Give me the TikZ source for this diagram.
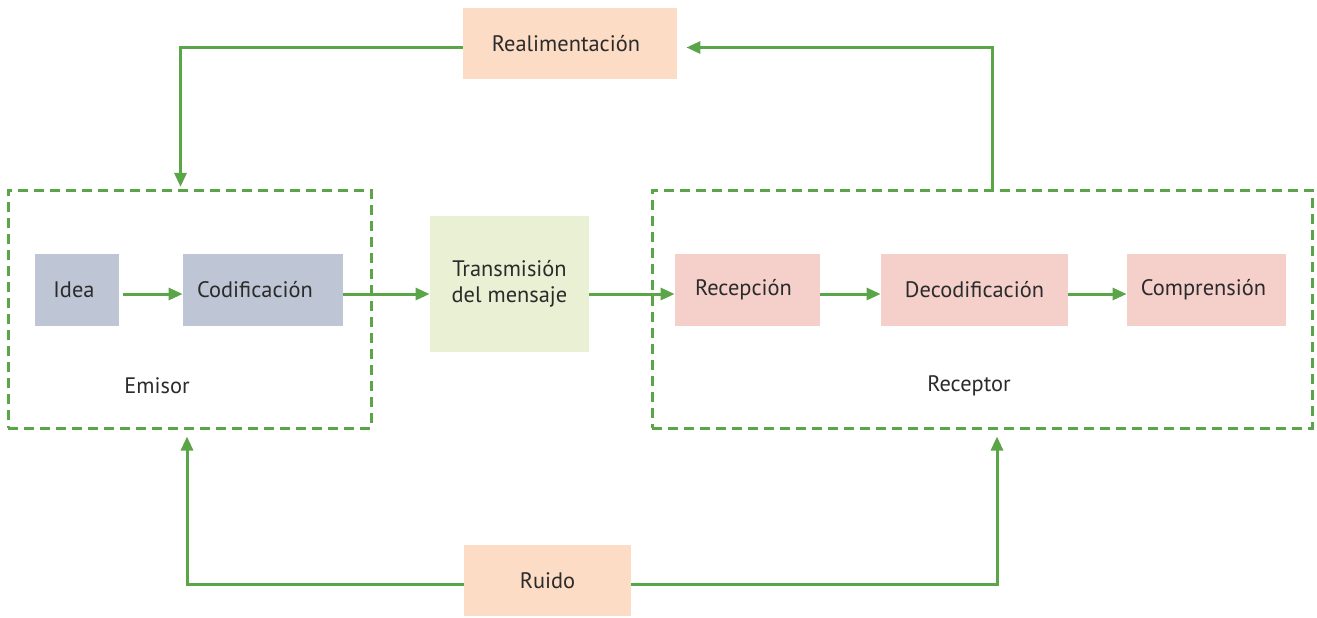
\documentclass[tikz,border=0pt]{standalone}
\usepackage{fontspec}
\setmainfont{PT Sans}
\usepackage{xcolor}
\usetikzlibrary{shapes,arrows.meta,positioning}
\definecolor{flowgreen}{RGB}{90,165,72}
\definecolor{grayblue}{RGB}{190,197,212}
\definecolor{peach}{RGB}{252,220,196}
\definecolor{rosa}{RGB}{245,208,202}
\definecolor{paleverde}{RGB}{234,240,212}
\definecolor{texto}{RGB}{43,43,43}

\begin{document}
\begin{tikzpicture}[x=0.5pt,y=-0.5pt,
    blok/.style={inner sep=0pt, text=texto, font=\fontsize{11.2}{13}\selectfont, align=center},
    dashbox/.style={draw=flowgreen, line width=1.5pt, dash pattern=on 5pt off 3pt, inner sep=0pt},
    flow/.style={draw=flowgreen, line width=1.5pt, -{Triangle[length=7pt,width=6pt]}},
    lbl/.style={text=texto, font=\fontsize{11.2}{13}\selectfont}]
\useasboundingbox (0,0) rectangle (1317,617);
% Emisor and receptor frames
\node[dashbox, minimum width=181.5pt, minimum height=119pt] (emisor) at (189.5,309) {};
\node[dashbox, minimum width=330pt, minimum height=119pt] (receptor) at (982,309) {};
\node[lbl] (emisorlbl) at (157,386) {Emisor};
\node[lbl] (receptorlbl) at (969,386) {Receptor};
% Boxes
\node[blok, fill=peach, minimum width=107pt, minimum height=35.5pt] (realim) at (570,43.5) {\hspace*{-4pt}Realimentación};
\node[blok, fill=grayblue, minimum width=42pt, minimum height=36pt] (idea) at (77,290) {\hspace*{-3pt}Idea};
\node[blok, fill=grayblue, minimum width=80pt, minimum height=36pt] (codif) at (263,290) {\hspace*{-8pt}Codificación};
\node[blok, fill=paleverde, minimum width=79.5pt, minimum height=68pt] (trans) at (509.5,284) {Transmisión\\del mensaje};
\node[blok, fill=rosa, minimum width=72.5pt, minimum height=36pt] (recep) at (747.5,290) {\hspace*{-4pt}Recepción};
\node[blok, fill=rosa, minimum width=93.5pt, minimum height=36pt] (decod) at (974.5,290) {Decodificación};
\node[blok, fill=rosa, minimum width=79.5pt, minimum height=36pt] (compr) at (1206.5,290) {\hspace*{-3pt}Comprensión};
\node[blok, fill=peach, minimum width=83.5pt, minimum height=35.5pt] (ruido) at (547.5,580.5) {Ruido};
% Main chain
\draw[flow, shorten <=2pt] ([yshift=-2pt]idea.east) -- ([yshift=-2pt]codif.west);
\draw[flow] ([yshift=-2pt]codif.east) -- ([yshift=-2pt]codif.east -| trans.west);
\draw[flow] ([yshift=-2pt]recep.west -| trans.east) -- ([yshift=-2pt]recep.west);
\draw[flow] ([yshift=-2pt]recep.east) -- ([yshift=-2pt]decod.west);
\draw[flow] ([yshift=-2pt]decod.east) -- ([yshift=-2pt]compr.west);
% Feedback
\draw[flow, shorten >=0.8pt] ([yshift=-2pt]realim.west) -| ([xshift=-4.5pt]emisor.north);
\draw[flow, shorten >=4.5pt] ([xshift=5pt]receptor.north) |- ([yshift=-2pt]realim.east);
% Noise
\draw[flow, shorten >=3.5pt] ([yshift=-1.75pt]ruido.west) -| ([xshift=-1.25pt]emisor.south);
\draw[flow, shorten >=3.5pt] ([yshift=-1.75pt]ruido.east) -| ([xshift=7.5pt]receptor.south);
\end{tikzpicture}
\end{document}
